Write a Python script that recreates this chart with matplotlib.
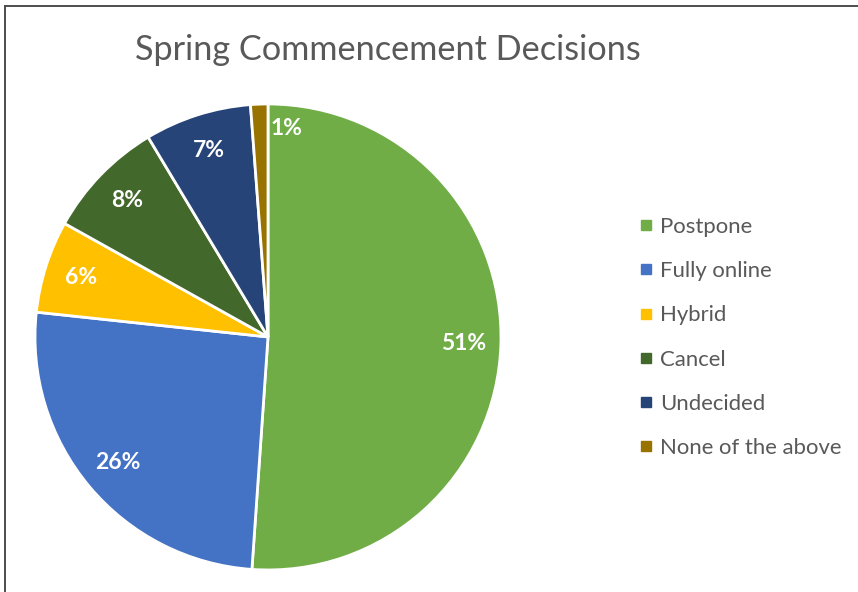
import numpy as np
import matplotlib
matplotlib.use("Agg")
import matplotlib.pyplot as plt
from matplotlib.lines import Line2D

# survey data (percent of responses)
categories = ["Postpone", "Fully online", "Hybrid", "Cancel", "Undecided", "None of the above"]
shares = [51.1, 25.6, 6.4, 8.3, 7.4, 1.2]
colors = ["#70AD47", "#4472C4", "#FFC000", "#43682B", "#264478", "#997300"]

plt.rcParams["font.family"] = ["Lato", "DejaVu Sans"]

fig = plt.figure(figsize=(8.58, 5.92), dpi=100)
ax = fig.add_axes([0.0408, 0.0372, 0.5431, 0.7872])

wedges, texts, autotexts = ax.pie(
    shares, colors=colors, startangle=90, counterclock=False,
    autopct="%1.0f%%", pctdistance=0.84,
    wedgeprops=dict(edgecolor="white", linewidth=2),
    textprops=dict(color="white", fontsize=16.5, fontweight="bold"),
)
ax.set_xlim(-1, 1)
ax.set_ylim(-1, 1)
ax.set_aspect("equal")

# the tiny slice label sits just beside it, inside the green
w = wedges[-1]
ang = np.deg2rad(min(w.theta1, w.theta2) - 5)
autotexts[-1].set_position((0.9 * np.cos(ang), 0.9 * np.sin(ang)))

fig.text(0.452, 0.899, "Spring Commencement Decisions", ha="center", va="baseline",
         fontsize=24.7, color="#595959")

handles = [Line2D([], [], marker="s", linestyle="none", markersize=6.5,
                  markerfacecolor=c, markeredgecolor=c) for c in colors]
fig.legend(handles, categories, loc="center left", bbox_to_anchor=(0.722, 0.43),
           frameon=False, fontsize=15.9, labelcolor="#595959",
           handlelength=0.6, handletextpad=0.35, labelspacing=1.1)

# chart border (top and left edges)
fig.add_artist(Line2D([0.0064, 1.0], [0.9907, 0.9907], color="#4d4d4d", lw=1.4))
fig.add_artist(Line2D([0.0064, 0.0064], [0.0, 0.9907], color="#4d4d4d", lw=1.4))

fig.savefig("out.png", dpi=100)
